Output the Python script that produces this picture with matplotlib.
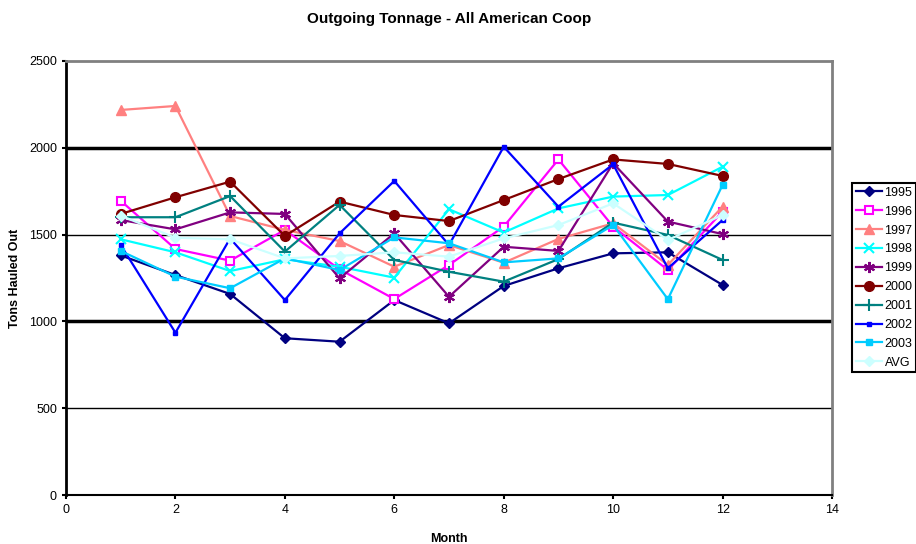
#!/usr/bin/env python3

import matplotlib
matplotlib.use("Agg")
import matplotlib.pyplot as plt

matplotlib.rcParams['font.family'] = ['Liberation Sans', 'DejaVu Sans']

months = [1, 2, 3, 4, 5, 6, 7, 8, 9, 10, 11, 12]

y1995 = [1380, 1267, 1158, 903, 883, 1123, 989, 1204, 1306, 1392, 1398, 1210]
y1996 = [1695, 1417, 1350, 1527, 1300, 1129, 1325, 1546, 1933, 1546, 1296, 1632]
y1997 = [2218, 2241, 1607, 1527, 1463, 1315, 1440, 1338, 1475, 1565, 1325, 1661]
y1998 = [1473, 1398, 1290, 1358, 1315, 1252, 1646, 1512, 1651, 1719, 1728, 1891]
y1999 = [1584, 1530, 1628, 1619, 1248, 1507, 1142, 1430, 1406, 1911, 1575, 1503]
y2000 = [1619, 1715, 1805, 1492, 1690, 1613, 1578, 1699, 1820, 1933, 1907, 1838]
y2001 = [1600, 1600, 1722, 1402, 1671, 1354, 1286, 1229, 1359, 1569, 1498, 1354]
y2002 = [1440, 935, 1478, 1123, 1507, 1809, 1440, 2006, 1661, 1905, 1306, 1584]
y2003 = [1406, 1258, 1191, 1363, 1296, 1484, 1450, 1340, 1363, 1555, 1128, 1786]
avg = [1609, 1482, 1473, 1363, 1377, 1398, 1373, 1478, 1555, 1680, 1469, 1613]

series_labels = ['1995', '1996', '1997', '1998', '1999', '2000', '2001',
                 '2002', '2003', 'AVG']
series_values = [y1995, y1996, y1997, y1998, y1999, y2000, y2001,
                 y2002, y2003, avg]

# Excel-ish default palette and markers
styles = [
    dict(color='#000080', marker='D', ms=5),
    dict(color='#FF00FF', marker='s', ms=6, mfc='white', mew=1.5),
    dict(color='#FF8080', marker='^', ms=7),
    dict(color='#00FFFF', marker='x', ms=7, mew=1.5),
    dict(color='#800080', marker=(6, 2, 0), ms=8, mew=1.5),
    dict(color='#800000', marker='o', ms=7),
    dict(color='#008080', marker='+', ms=8, mew=1.5),
    dict(color='#0000FF', marker='s', ms=3.5),
    dict(color='#00CCFF', marker='s', ms=5),
    dict(color='#CCFFFF', marker='D', ms=5),
]

heavy_lines = [1000, 2000]
light_lines = [500, 1500]

fig = plt.figure(figsize=(9.16, 5.44), dpi=100)
ax = fig.add_axes([66 / 916, 1 - 495 / 544, (832 - 66) / 916, (495 - 61) / 544])

for y in heavy_lines:
  ax.axhline(y, color='black', lw=2.5, zorder=1)
for y in light_lines:
  ax.axhline(y, color='black', lw=1.0, zorder=1)

for lab, vals, st in zip(series_labels, series_values, styles):
  st = dict(st)
  st.setdefault('mec', st['color'])
  ax.plot(months, vals, lw=1.6, label=lab, zorder=3, **st)

ax.set_xlim(0, 14)
ax.set_ylim(0, 2500)
ax.set_xticks(range(0, 15, 2))
ax.set_yticks(range(0, 2501, 500))
ax.tick_params(labelsize=9, length=3, width=1.5, direction='out')

for s in ['top', 'right']:
  ax.spines[s].set_color('#808080')
  ax.spines[s].set_linewidth(2)
ax.spines['left'].set_linewidth(2)
ax.spines['bottom'].set_linewidth(1.5)

ax.set_title('Outgoing Tonnage - All American Coop', fontsize=11,
             fontweight='bold', pad=27)
ax.set_xlabel('Month', fontsize=9, fontweight='bold', labelpad=12)
ax.set_ylabel('Tons Hauled Out', fontsize=9, fontweight='bold', labelpad=6)

leg = ax.legend(loc='upper left', bbox_to_anchor=(852 / 916, 1 - 183 / 544),
                bbox_transform=fig.transFigure, fontsize=9, frameon=True,
                fancybox=False, edgecolor='black', framealpha=1,
                borderaxespad=0, handlelength=2.1, labelspacing=0.55,
                borderpad=0.3, handletextpad=0.2)
leg.get_frame().set_linewidth(1.5)

fig.savefig('out.png', dpi=100)
